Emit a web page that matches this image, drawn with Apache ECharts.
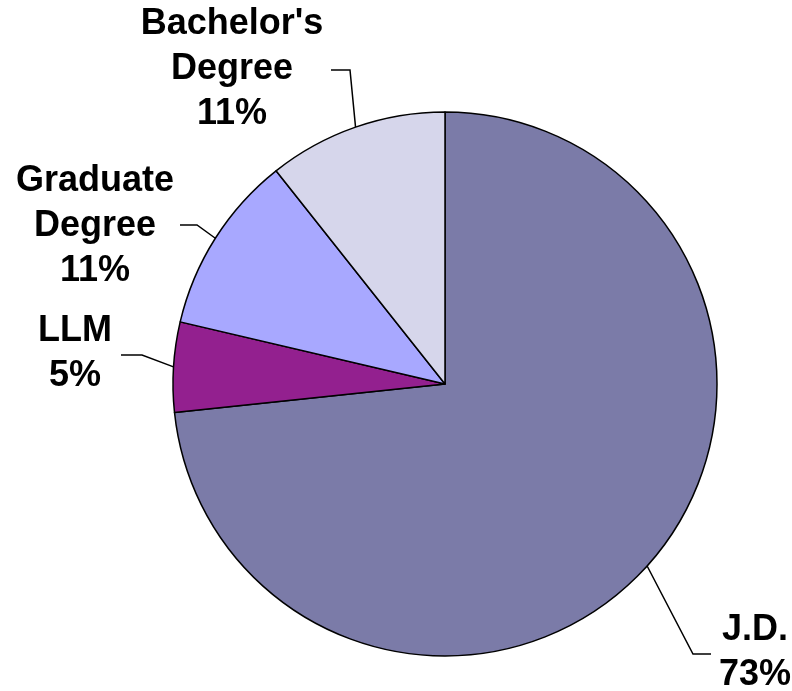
<!DOCTYPE html>
<html>
<head>
<meta charset="utf-8">
<script src="https://cdn.jsdelivr.net/npm/echarts@6/dist/echarts.min.js"></script>
<style>html,body{margin:0;padding:0;background:#fff}#c{width:792px;height:691px}</style>
</head>
<body>
<div id="c"></div>
<script>
var categories = ["J.D.", "LLM", "Graduate\nDegree", "Bachelor's\nDegree"];
var values = [55, 4, 8, 8];
var colors = ["#7B7BA8", "#93208F", "#A8A8FF", "#D6D6EB"];

// label placement (text block centre and leader-line bend/end), pixels
var labelPlace = [
  { x: 755, y: 653, bend: [693, 654], end: [711, 654] },
  { x: 75, y: 354, bend: [142, 355], end: [121, 355] },
  { x: 95, y: 226, bend: [197, 225], end: [180, 225] },
  { x: 232, y: 69, bend: [350, 70], end: [331, 70] }
];

var chart = echarts.init(document.getElementById('c'), null, { renderer: 'canvas' });
chart.setOption({
  animation: false,
  backgroundColor: '#ffffff',
  series: [{
    type: 'pie',
    center: [445, 384],
    radius: 272,
    startAngle: 90,
    clockwise: true,
    avoidLabelOverlap: false,
    data: categories.map(function (c, i) {
      return { name: c, value: values[i], itemStyle: { color: colors[i] } };
    }),
    itemStyle: { borderColor: '#000', borderWidth: 1.5 },
    label: {
      show: true,
      position: 'outside',
      formatter: function (p) { return p.name + '\n' + Math.round(p.percent) + '%'; },
      fontFamily: 'Arial, "Liberation Sans", sans-serif',
      fontWeight: 'bold',
      fontSize: 36,
      lineHeight: 45,
      color: '#000',
      align: 'center'
    },
    labelLine: { show: true, length: 30, length2: 20, smooth: false, lineStyle: { color: '#000', width: 1.5 } },
    emphasis: { disabled: true }
  }]
});

chart.setOption({
  series: [{
    labelLayout: function (params) {
      var lp = labelPlace[params.dataIndex];
      var pts = params.labelLinePoints;
      var start = pts && pts[0] ? pts[0] : lp.bend;
      return {
        x: lp.x,
        y: lp.y,
        align: 'center',
        verticalAlign: 'middle',
        labelLinePoints: [start, lp.bend, lp.end]
      };
    }
  }]
});
</script>
</body>
</html>
